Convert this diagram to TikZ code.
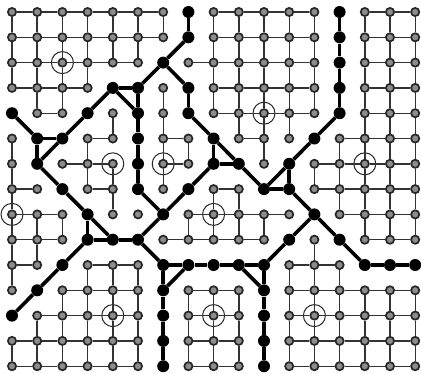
\documentclass[tikz,border=0pt]{standalone}
\begin{document}
\begin{tikzpicture}[x=25.2pt,y=-25.3pt,
  gn/.style={circle,inner sep=0pt,minimum size=8.2pt,fill=black!45,draw=black!85,line width=1.7pt},
  bn/.style={circle,inner sep=0pt,minimum size=12pt,fill=black},
  te/.style={line width=1.4pt,draw=black!80},
  tk/.style={line width=3.6pt,draw=black},
  cc/.style={line width=1pt,draw=black!85}]
\useasboundingbox[fill=white] (-12pt,12pt) rectangle (409pt,-361pt);
% node types per row: g gray, b black
\newcommand\rowG[2]{\foreach \i in {#2} {\node[gn] (n-\i-#1) at (\i,#1) {};}}
\newcommand\rowB[2]{\foreach \i in {#2} {\node[bn] (n-\i-#1) at (\i,#1) {};}}
\rowG{0}{0,1,2,3,4,5,6,8,9,10,11,12,14,15,16}\rowB{0}{7,13}
\rowG{1}{0,1,2,3,4,5,6,8,9,10,11,12,14,15,16}\rowB{1}{7,13}
\rowG{2}{0,1,2,3,4,5,7,8,9,10,11,12,14,15,16}\rowB{2}{6,13}
\rowG{3}{0,1,2,3,6,8,9,10,11,12,14,15,16}\rowB{3}{4,5,7,13}
\rowG{4}{1,2,4,6,8,9,10,11,12,14,15,16}\rowB{4}{0,3,5,7,13}
\rowG{5}{0,3,4,6,7,9,10,11,13,14,15,16}\rowB{5}{1,2,5,8,12}
\rowG{6}{0,2,3,4,6,7,10,12,13,14,15,16}\rowB{6}{1,5,8,9,11}
\rowG{7}{0,1,3,4,6,8,9,12,13,14,15,16}\rowB{7}{2,5,7,10,11}
\rowG{8}{0,1,2,4,5,7,8,9,10,11,13,14,15,16}\rowB{8}{3,6,12}
\rowG{9}{0,1,2,6,7,8,9,10,12,14,15,16}\rowB{9}{3,4,5,11,13}
\rowG{10}{0,1,3,4,5,11,12,13}\rowB{10}{2,6,7,8,9,10,14,15,16}
\rowG{11}{0,2,3,4,5,7,8,9,11,12,13,14,15,16}\rowB{11}{1,6,10}
\rowG{12}{1,2,3,4,5,7,8,9,11,12,13,14,15,16}\rowB{12}{0,6,10}
\rowG{13}{0,1,2,3,4,5,7,8,9,11,12,13,14,15,16}\rowB{13}{6,10}
\rowG{14}{0,1,2,3,4,5,7,8,9,11,12,13,14,15,16}\rowB{14}{6,10}
% centres
\foreach \p in {2-2,10-4,4-6,6-6,0-8,8-8,14-6,4-12,8-12,12-12}
  \draw[cc] (n-\p.center) circle[radius=11pt];
% thin horizontal edges
\newcommand\hE[2]{\foreach \i in {#2} {\pgfmathtruncatemacro\k{\i+1}\draw[te] (n-\i-#1) -- (n-\k-#1);}}
\hE{0}{0,1,2,3,4,5,8,9,10,11,14,15}
\hE{1}{0,1,2,3,4,5,8,9,10,11,14,15}
\hE{2}{0,1,2,3,4,7,8,9,10,11,14,15}
\hE{3}{0,1,2,8,9,10,11,14,15}
\hE{4}{1,8,9,10,11,14,15}
\hE{5}{3,6,9,13,14,15}
\hE{6}{2,3,6,12,13,14,15}
\hE{7}{0,3,8,12,13,14,15}
\hE{8}{0,1,7,8,9,10,13,14,15}
\hE{9}{0,1,6,7,8,9,14,15}
\hE{10}{0,3,4,11,12}
\hE{11}{2,3,4,7,8,11,12,13,14,15}
\hE{12}{1,2,3,4,7,8,11,12,13,14,15}
\hE{13}{0,1,2,3,4,7,8,11,12,13,14,15}
\hE{14}{0,1,2,3,4,7,8,11,12,13,14,15}
% thin vertical edges
\newcommand\vE[2]{\foreach \j in {#2} {\pgfmathtruncatemacro\k{\j+1}\draw[te] (n-#1-\j) -- (n-#1-\k);}}
\vE{0}{0,1,2,5,6,7,8,9,10,13}
\vE{1}{0,1,2,3,8,9,12,13}
\vE{2}{0,1,2,3,8,11,12,13}
\vE{3}{0,1,2,5,6,10,11,12,13}
\vE{4}{0,1,4,6,7,10,11,12,13}
\vE{5}{0,1,10,11,12,13}
\vE{6}{0,3,4,5,6}
\vE{7}{5,8,11,12,13}
\vE{8}{0,1,2,3,7,8,11,12,13}
\vE{9}{0,1,2,3,4,7,8,11,12,13}
\vE{10}{0,1,2,3,4,5,8}
\vE{11}{0,1,2,3,4,10,11,12,13}
\vE{12}{0,1,2,3,6,9,10,11,12,13}
\vE{13}{5,6,7,10,11,12,13}
\vE{14}{0,1,2,3,4,5,6,7,8,11,12,13}
\vE{15}{0,1,2,3,4,5,6,7,8,11,12,13}
\vE{16}{0,1,2,3,4,5,6,7,8,11,12,13}
% thick boundary edges
\foreach \a/\b in {7-0/7-1,7-1/6-2,6-2/5-3,6-2/7-3,5-3/4-3,5-3/5-4,4-3/5-4,4-3/3-4,
  3-4/2-5,0-4/1-5,1-5/2-5,1-5/1-6,2-5/1-6,1-6/2-7,2-7/3-8,3-8/3-9,3-8/4-9,3-9/4-9,
  4-9/5-9,3-9/2-10,2-10/1-11,1-11/0-12,5-4/5-5,5-5/5-6,5-6/5-7,5-7/6-8,6-8/5-9,
  6-8/7-7,7-7/8-6,7-3/7-4,7-4/8-5,8-5/8-6,8-5/9-6,8-6/9-6,9-6/10-7,10-7/11-6,
  10-7/11-7,11-6/11-7,11-6/12-5,12-5/13-4,13-0/13-1,13-1/13-2,13-2/13-3,13-3/13-4,
  11-7/12-8,12-8/11-9,12-8/13-9,13-9/14-10,14-10/15-10,15-10/16-10,11-9/10-10,
  5-9/6-10,6-10/7-10,7-10/8-10,8-10/9-10,9-10/10-10,7-10/6-11,9-10/10-11,
  6-10/6-11,6-11/6-12,6-12/6-13,6-13/6-14,10-10/10-11,10-11/10-12,10-12/10-13,10-13/10-14}
  \draw[tk] (n-\a) -- (n-\b);
\end{tikzpicture}
\end{document}
